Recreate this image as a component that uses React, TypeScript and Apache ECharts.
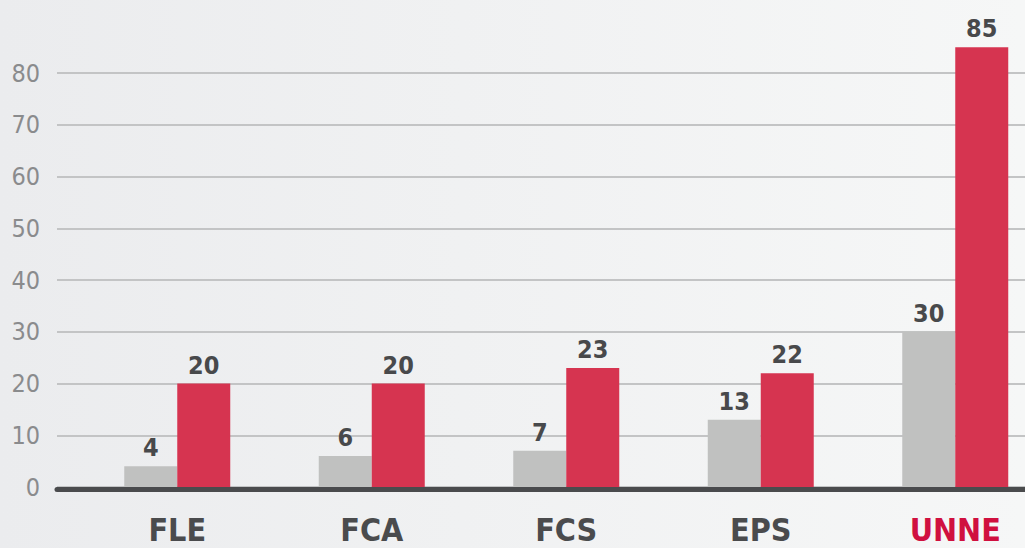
import React, { useEffect, useRef } from "react";
import * as echarts from "echarts";

const categories = ["FLE", "FCA", "FCS", "EPS", "UNNE"];
const grayValues = [4, 6, 7, 13, 30];
const redValues = [20, 20, 23, 22, 85];
const yTicks = [0, 10, 20, 30, 40, 50, 60, 70, 80];

const FONT = "'Liberation Sans Narrow', 'DejaVu Sans Condensed', sans-serif";

export default function App() {
  const ref = useRef<HTMLDivElement>(null);
  useEffect(() => {
    if (!ref.current) return;
    const chart = echarts.init(ref.current, undefined, { renderer: "svg" });
    const option: any = {
      animation: false,
      backgroundColor: "transparent",
      grid: [
        { left: 57, right: 0, top: 73, bottom: 61, outerBoundsMode: "none" },
        { left: 80, width: 972.5, top: 21.25, bottom: 61, outerBoundsMode: "none" },
      ],
      xAxis: [
        {
          gridIndex: 0,
          type: "value",
          min: 0,
          max: 1,
          offset: 2.5,
          axisLine: { show: true, onZero: false, lineStyle: { color: "#4a4b4d", width: 5 } },
          axisTick: { show: false },
          axisLabel: { show: false },
          splitLine: { show: false },
        },
        {
          gridIndex: 1,
          type: "category",
          data: categories,
          axisLine: { show: false },
          axisTick: { show: false },
          axisLabel: {
            margin: 27,
            fontFamily: FONT,
            fontWeight: "bold",
            fontSize: 32,
            color: (v: string) => (v === "UNNE" ? "#d0103f" : "#4a4b4d"),
          },
        },
      ],
      yAxis: [
        {
          gridIndex: 0,
          type: "value",
          min: yTicks[0],
          max: yTicks[yTicks.length - 1],
          interval: 10,
          axisLine: { show: false },
          axisTick: { show: false },
          axisLabel: {
            margin: 17,
            fontFamily: FONT,
            fontSize: 25,
            color: "#8a8b8d",
          },
          splitLine: { show: true, lineStyle: { color: "#c3c4c5", width: 2 } },
        },
        {
          gridIndex: 1,
          type: "value",
          min: 0,
          max: 90,
          show: false,
          splitLine: { show: false },
        },
      ],
      series: [
        {
          type: "bar",
          xAxisIndex: 1,
          yAxisIndex: 1,
          data: grayValues,
          barWidth: 53,
          barGap: "0%",
          itemStyle: { color: "#c0c1c0" },
          label: {
            show: true,
            position: "top",
            distance: 6,
            fontFamily: FONT,
            fontWeight: "bold",
            fontSize: 25,
            color: "#48494b",
          },
        },
        {
          type: "bar",
          xAxisIndex: 1,
          yAxisIndex: 1,
          data: redValues,
          barWidth: 53,
          barGap: "0%",
          itemStyle: { color: "#d63450" },
          label: {
            show: true,
            position: "top",
            distance: 6,
            fontFamily: FONT,
            fontWeight: "bold",
            fontSize: 25,
            color: "#48494b",
          },
        },
      ],
    };
    chart.setOption(option);
    return () => chart.dispose();
  }, []);
  return (
    <div
      style={{
        position: "absolute",
        left: 0,
        top: 0,
        width: 1025,
        height: 548,
        background: "linear-gradient(to right, #ebecee 0%, #f0f1f2 45%, #f6f7f7 100%)",
      }}
    >
      <div ref={ref} style={{ width: 1025, height: 548 }} />
    </div>
  );
}
